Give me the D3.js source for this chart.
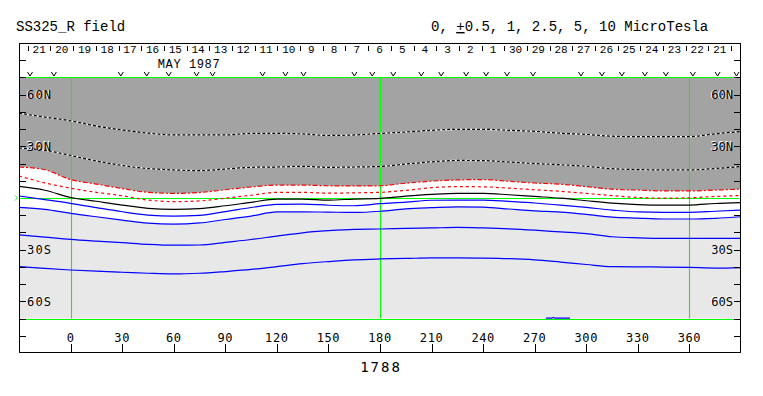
<!DOCTYPE html>
<html><head><meta charset="utf-8">
<script src="https://cdn.jsdelivr.net/npm/d3@7/dist/d3.min.js"></script>
<style>body{margin:0;background:#fff;} svg{display:block;}</style>
</head><body>
<svg id="c" width="763" height="396"></svg>
<script>
// ---------------- data ----------------
const titleLeft = "SS325_R field";
const rotation = "1788";
const monthLabel = "MAY 1987";
const lonGrid = [-30,-15,0,15,30,45,60,75,90,105,120,135,150,165,180,195,210,225,240,255,270,285,300,315,330,345,360,375,390];
// contour latitudes (deg) at lonGrid, one array per field level (microTesla)
const pos5  = [49.2,47.0,44.8,41.8,39.5,37.7,36.6,36.6,36.6,37.5,37.5,37.2,36.3,36.6,37.5,38.3,39.3,39.9,39.9,39.3,38.7,37.6,36.9,35.9,35.6,35.6,35.6,37.3,38.6];
const pos25 = [29.0,27.7,24.7,21.5,18.9,17.1,16.3,15.9,16.8,17.8,18.0,18.4,17.8,18.0,18.3,19.7,21.0,21.8,21.7,20.9,20.0,19.3,18.4,17.0,16.5,16.3,16.3,17.1,18.3];
const pos1  = [18.0,16.4,10.7,8.1,5.5,3.3,2.7,3.2,4.8,6.4,7.5,7.5,7.1,7.0,7.1,8.6,9.8,10.5,10.7,9.7,8.7,8.0,6.6,5.1,4.6,4.1,4.1,4.6,5.2];
const pos05 = [12.8,8.8,5.7,3.3,1.3,-1.2,-2.1,-1.7,-0.1,1.6,3.3,3.3,2.8,3.0,3.3,4.4,6.0,6.6,6.5,5.7,4.8,3.9,2.7,1.4,0.3,-0.1,0.1,0.9,1.4];
const zero  = [6.7,4.5,0.3,-1.9,-4.1,-6.0,-6.6,-6.2,-4.5,-2.5,-0.6,-0.6,-1.2,-0.6,-0.2,1.1,2.1,2.7,2.7,1.9,0.9,-0.1,-1.6,-3.0,-3.8,-4.1,-4.1,-3.2,-2.7];
const neg05 = [1.2,-0.9,-3.1,-5.6,-8.0,-9.9,-10.5,-10.1,-7.9,-5.5,-3.7,-3.5,-4.2,-4.5,-3.3,-2.4,-1.3,-1.2,-1.2,-2.0,-2.9,-4.1,-5.5,-7.0,-8.1,-8.3,-8.3,-7.7,-7.0];
const neg1  = [-5.4,-6.6,-8.9,-10.9,-12.8,-14.6,-15.2,-14.5,-12.5,-10.5,-8.1,-8.0,-8.2,-8.4,-7.7,-6.3,-5.6,-5.1,-5.3,-6.4,-7.5,-8.2,-9.5,-11.1,-11.7,-12.2,-12.2,-11.8,-10.9];
const neg25 = [-21.4,-22.7,-24.0,-25.0,-25.9,-26.9,-27.4,-27.3,-25.8,-24.1,-22.1,-20.2,-19.0,-18.2,-18.0,-17.6,-17.4,-17.1,-17.4,-17.9,-18.7,-19.7,-20.7,-22.5,-23.1,-23.4,-23.4,-23.4,-23.4];
const neg5  = [-39.8,-40.9,-41.8,-42.5,-43.1,-43.7,-44.1,-43.7,-42.7,-41.5,-39.8,-38.1,-36.9,-35.9,-35.4,-35.1,-34.8,-34.8,-34.9,-35.2,-35.9,-37.2,-38.6,-39.9,-40.0,-40.1,-40.3,-40.7,-40.4];
// small piece of -10 contour touching the lower edge
const neg10Lon = [276.5,280,280.8,281.6,290.5];
const neg10Lat = [-69.8,-69.8,-69.3,-69.8,-69.8];
// observation markers (longitude)
const obsLon = [-23.6,-9.7,29.2,44.3,57.1,73.3,82.6,111.7,125.0,135.5,165.1,175.5,187.7,204.0,215.6,230.1,241.7,253.9,269.0,296.9,309.1,320.7,334.1,346.3,362.0,376.4,387.4];
// day-of-month labels (descending in time, left to right)
const dayLabels = [21,20,19,18,17,16,15,14,13,12,11,10,9,8,7,6,5,4,3,2,1,30,29,28,27,26,25,24,23,22,21];
const lonTicks = [0,30,60,90,120,150,180,210,240,270,300,330,360];
const latTicks = [80,70,60,50,40,30,20,10,-10,-20,-30,-40,-50,-60,-70,-80];
const latLabels = {60:"60N",30:"30N","-30":"30S","-60":"60S"};
const greenLons = [0,180,360];
const greenLats = [70,0,-70];

// ---------------- drawing ----------------
const svg = d3.select('#c');
svg.append('rect').attr('width',763).attr('height',396).attr('fill','#fff');
const x = d3.scaleLinear().domain([-30,390]).range([19,741]);
const y = d3.scaleLinear().domain([-90,90]).range([353,43]);
const pts = arr => lonGrid.map((l,i)=>[l,arr[i]]);
const curve = d3.curveMonotoneX;

svg.append('defs').append('clipPath').attr('id','box')
  .append('rect').attr('x',19).attr('y',43).attr('width',722).attr('height',310);

const g = svg.append('g').attr('clip-path','url(#box)');

// shading
g.append('path').datum(pts(pos1))
  .attr('d', d3.area().x(d=>x(d[0])).y0(y(70)).y1(d=>y(d[1])).curve(curve))
  .attr('fill','#a3a3a3');
g.append('path').datum(pts(neg1))
  .attr('d', d3.area().x(d=>x(d[0])).y0(y(-70)).y1(d=>y(d[1])).curve(curve))
  .attr('fill','#e8e8e8');

// green reference lines
greenLats.forEach(la=>{
  g.append('line').attr('x1',x(-30)).attr('x2',x(390)).attr('y1',Math.round(y(la))+0.5).attr('y2',Math.round(y(la))+0.5)
   .attr('stroke','#00ff00').attr('stroke-width',1);
});
greenLons.forEach(lo=>{
  g.append('line').attr('x1',Math.round(x(lo))+0.5).attr('x2',Math.round(x(lo))+0.5).attr('y1',y(70)).attr('y2',y(-70))
   .attr('stroke','#00ff00').attr('stroke-width',1.1);
});

// contours
const line = d3.line().x(d=>x(d[0])).y(d=>y(d[1])).curve(curve);
function contour(arr, color, dash, under){
  if(under) g.append('path').datum(pts(arr)).attr('d',line).attr('fill','none').attr('stroke',under).attr('stroke-width',1.2);
  const p = g.append('path').datum(pts(arr)).attr('d',line).attr('fill','none').attr('stroke',color).attr('stroke-width',1.2);
  if(dash) p.attr('stroke-dasharray',dash);
}
contour(pos5,'#000','3 2','#fff');
contour(pos25,'#000','3 2','#fff');
contour(pos1,'#ff0000','5 2 2 2');
contour(pos05,'#ff0000','3 3');
contour(zero,'#000',null);
contour(neg05,'#0000ff',null);
contour(neg1,'#0000ff',null);
contour(neg25,'#0000ff',null);
contour(neg5,'#0000ff',null);
g.append('path').datum(neg10Lon.map((l,i)=>[l,neg10Lat[i]]))
  .attr('d',d3.line().x(d=>x(d[0])).y(d=>y(d[1]))).attr('fill','none').attr('stroke','#0000ff').attr('stroke-width',1.2);

// observation markers
const obsG = g.append('g');
obsLon.forEach(lo=>{
  const px = x(lo);
  obsG.append('path').attr('d',`M${px-2.5},72 L${px},76 L${px+2.5},72`).attr('fill','none').attr('stroke','#000').attr('stroke-width',1);
});

// day labels (Carrington rotation time scale)
const T0 = -7.16, rotDays = 27.2753; // days since Apr 30 0h at longitude 360
const tLon = t => 360 - (t - T0)*360/rotDays;
dayLabels.forEach((d,i)=>{
  const tm = 21.5 - i;
  g.append('text').attr('x',x(tLon(tm))).attr('y',53).attr('text-anchor','middle')
   .attr('font-family','Liberation Mono, monospace').attr('font-size',11).attr('fill','#000').text(d);
});
for(let i=0;i<=31;i++){
  const px = x(tLon(22 - i));
  if(px>19 && px<741){
    g.append('line').attr('x1',Math.round(px)+0.5).attr('x2',Math.round(px)+0.5).attr('y1',46).attr('y2',51)
     .attr('stroke','#000').attr('stroke-width',1);
  }
}
svg.append('text').attr('x',189).attr('y',67.5).attr('text-anchor','middle')
  .attr('font-family','Liberation Mono, monospace').attr('font-size',12).attr('letter-spacing',0.6).text(monthLabel);

// lat ticks
latTicks.forEach(la=>{
  const py = Math.round(y(la))+0.5;
  svg.append('line').attr('x1',19).attr('x2',26).attr('y1',py).attr('y2',py).attr('stroke','#000');
  svg.append('line').attr('x1',734).attr('x2',741).attr('y1',py).attr('y2',py).attr('stroke','#000');
  const lab = latLabels[la];
  if(lab){
    [[27,'start'],[733,'end']].forEach(([tx,anc])=>{
      svg.append('text').attr('x',tx-1).attr('y',y(la)+4).attr('text-anchor',anc)
        .attr('font-family','DejaVu Sans Mono, monospace').attr('font-size',12).attr('letter-spacing',anc==='end'?0:1.2)
        .attr('fill','#fff').text(lab);
      svg.append('text').attr('x',tx).attr('y',y(la)+4.5).attr('text-anchor',anc)
        .attr('font-family','DejaVu Sans Mono, monospace').attr('font-size',12).attr('letter-spacing',anc==='end'?0:1.2)
        .attr('fill','#000').text(lab);
    });
  }
});
// equator marker
svg.append('path').attr('d',`M15,${y(0)-2.5} L17.5,${y(0)} L15,${y(0)+2.5}`).attr('fill','none').attr('stroke','#00ff00').attr('stroke-width',1);

// lon ticks and labels
lonTicks.forEach(lo=>{
  const px = Math.round(x(lo))+0.5;
  svg.append('line').attr('x1',px).attr('x2',px).attr('y1',344).attr('y2',353).attr('stroke','#000');
  svg.append('text').attr('x',x(lo)).attr('y',342).attr('text-anchor','middle')
    .attr('font-family','DejaVu Sans Mono, monospace').attr('font-size',12).attr('letter-spacing',0.6).text(lo);
});
svg.append('text').attr('x',x(180)+1).attr('y',372).attr('text-anchor','middle')
  .attr('font-family','DejaVu Sans Mono, monospace').attr('font-size',14).attr('letter-spacing',2).text(rotation);

// frame
svg.append('rect').attr('x',19.5).attr('y',43.5).attr('width',721).attr('height',309)
  .attr('fill','none').attr('stroke','#000').attr('stroke-width',1);

// titles
svg.append('text').attr('x',16).attr('y',31).attr('font-family','Liberation Mono, monospace').attr('font-size',14).text(titleLeft);
const t2 = svg.append('text').attr('x',431).attr('y',31).attr('font-family','Liberation Mono, monospace').attr('font-size',14);
t2.append('tspan').text('0, ');
t2.append('tspan').attr('text-decoration','underline').text('+');
t2.append('tspan').text('0.5, 1, 2.5, 5, 10 MicroTesla');
</script>
</body></html>
